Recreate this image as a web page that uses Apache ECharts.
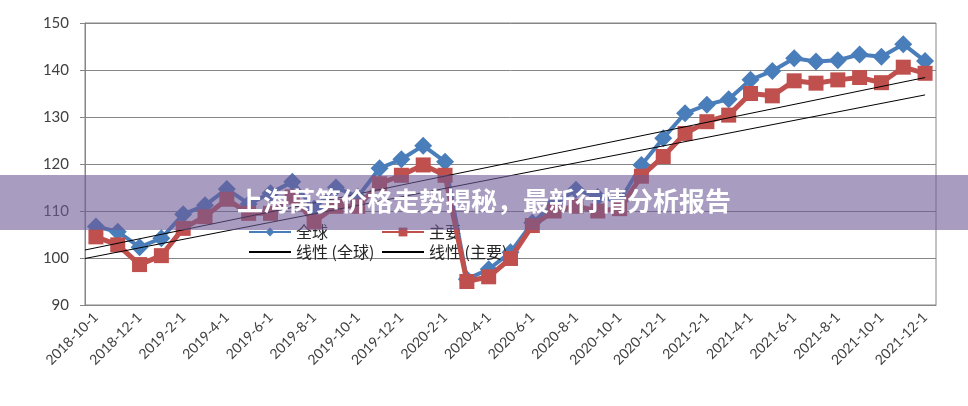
<!DOCTYPE html>
<html>
<head>
<meta charset="utf-8">
<script src="https://cdn.jsdelivr.net/npm/echarts@6/dist/echarts.min.js"></script>
<style>
html,body{margin:0;padding:0;background:#fff;}
#c{width:968px;height:406px;}
</style>
</head>
<body>
<div id="c"></div>
<script>
var categories = ['2018-10-1','2018-11-1','2018-12-1','2019-1-1','2019-2-1','2019-3-1','2019-4-1','2019-5-1','2019-6-1','2019-7-1','2019-8-1','2019-9-1','2019-10-1','2019-11-1','2019-12-1','2020-1-1','2020-2-1','2020-3-1','2020-4-1','2020-5-1','2020-6-1','2020-7-1','2020-8-1','2020-9-1','2020-10-1','2020-11-1','2020-12-1','2021-1-1','2021-2-1','2021-3-1','2021-4-1','2021-5-1','2021-6-1','2021-7-1','2021-8-1','2021-9-1','2021-10-1','2021-11-1','2021-12-1'];
var globalValues = [106.7,105.6,102.3,104.2,109.3,111.2,114.7,111.5,113.8,116.2,110.5,115.0,113.0,119.1,121.0,123.9,120.5,95.5,97.6,101.2,107.5,111.5,114.5,113.0,112.0,119.8,125.5,130.8,132.6,133.8,137.9,139.8,142.5,141.8,142.1,143.3,142.8,145.5,141.9];
var mainValues = [104.5,102.8,98.6,100.5,106.3,108.8,112.5,109.5,109.5,113.0,107.7,111.0,111.0,115.8,117.6,119.8,117.6,95.0,96.0,99.9,106.9,110.0,111.0,110.0,110.5,117.4,121.6,126.5,129.0,130.4,135.0,134.5,137.7,137.2,137.9,138.4,137.3,140.6,139.3];
var trendGlobal = [101.7, 138.4];
var trendMain = [99.9, 134.7];
var yTicks = {min: 90, max: 150, interval: 10};
var titleText = '上海莴笋价格走势揭秘，最新行情分析报告';

var n = categories.length;
var chart = echarts.init(document.getElementById('c'));
var axisGray = '#868686';
var legendText = {fontSize: 16, lineHeight: 20, color: '#262626', fontFamily: 'Noto Sans CJK SC'};
var hiddenSym = {opacity: 0};
var option = {
  backgroundColor: '#fff',
  animation: false,
  grid: {left: 85, right: 32, top: 23, bottom: 101, show: true, borderColor: axisGray, borderWidth: 1},
  legend: [
    {orient: 'vertical', left: 248, top: 222, padding: 0, itemGap: 0, itemWidth: 42, itemHeight: 11,
     data: ['全球', {name: '线性 (全球)', itemStyle: hiddenSym}], textStyle: legendText},
    {orient: 'vertical', left: 381, top: 222, padding: 0, itemGap: 0, itemWidth: 42, itemHeight: 11,
     data: ['主要', {name: '线性 (主要)', itemStyle: hiddenSym}], textStyle: legendText}
  ],
  xAxis: [
    {type: 'category', data: categories, boundaryGap: true,
     axisLine: {lineStyle: {color: axisGray}},
     axisTick: {interval: 1, length: 5, lineStyle: {color: axisGray}},
     axisLabel: {interval: 1, rotate: 45, margin: 10, fontSize: 14, color: '#404040', fontFamily: 'Lato'}},
    {type: 'value', min: 0, max: n, show: false}
  ],
  yAxis: {type: 'value', min: yTicks.min, max: yTicks.max, interval: yTicks.interval,
    axisLine: {show: true, lineStyle: {color: axisGray}},
    axisTick: {show: true, length: 5, lineStyle: {color: axisGray}},
    splitLine: {lineStyle: {color: axisGray, width: 1}},
    axisLabel: {fontSize: 15, color: '#404040', margin: 16, fontFamily: 'Lato'}},
  series: [
    {name: '全球', type: 'line', data: globalValues, symbol: 'diamond', symbolSize: 18, showAllSymbol: true,
     itemStyle: {color: '#4A7EBB'}, lineStyle: {color: '#4A7EBB', width: 4}, z: 3},
    {name: '主要', type: 'line', data: mainValues, symbol: 'rect', symbolSize: 15, showAllSymbol: true,
     itemStyle: {color: '#C0504D'}, lineStyle: {color: '#C0504D', width: 5}, z: 4},
    {name: '线性 (全球)', type: 'line', xAxisIndex: 1, symbol: 'none', z: 5,
     data: [[0, trendGlobal[0]], [n - 0.5, trendGlobal[1]]],
     itemStyle: {color: '#000'}, lineStyle: {color: '#000', width: 1}},
    {name: '线性 (主要)', type: 'line', xAxisIndex: 1, symbol: 'none', z: 5,
     data: [[0, trendMain[0]], [n - 0.5, trendMain[1]]],
     itemStyle: {color: '#000'}, lineStyle: {color: '#000', width: 1}}
  ],
  graphic: [
    {type: 'rect', left: 0, top: 175, z: 100, silent: true,
     shape: {width: 968, height: 55}, style: {fill: 'rgba(110,90,150,0.6)'}},
    {type: 'text', left: 'center', top: 188, z: 101, silent: true,
     style: {text: titleText, fill: '#fff', fontSize: 26, fontWeight: 'bold', fontFamily: 'Noto Sans CJK SC'}}
  ]
};
chart.setOption(option);
</script>
</body>
</html>
